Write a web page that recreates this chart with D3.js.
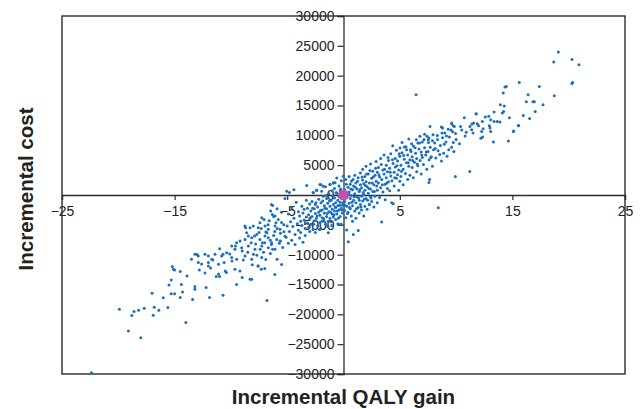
<!DOCTYPE html>
<html>
<head>
<meta charset="utf-8">
<script src="https://cdn.jsdelivr.net/npm/d3@7"></script>
<style>
  body { margin: 0; background: #fff; }
  svg { display: block; font-family: "Liberation Sans", Arial, sans-serif; }
</style>
</head>
<body>
<script>
// axis settings
const xTicks = [-25, -15, -5, 5, 15, 25];
const yTicks = [-30000, -25000, -20000, -15000, -10000, -5000, 0, 5000, 10000, 15000, 20000, 25000, 30000];
const xTitle = 'Incremental QALY gain';
const yTitle = 'Incremental cost';

// simulations, [QALY gain, cost], lower-left tail
const lowTail = [
  [-22.4, -29800], [-19.9, -19130], [-19.1, -22810], [-18.8, -20190], [-18.0, -23930],
  [-18.6, -19520], [-18.2, -19300], [-17.7, -18970], [-16.9, -20140], [-16.8, -18800],
  [-16.4, -19300], [-15.6, -18850], [-17.0, -16460], [-16.0, -17240], [-15.3, -16570],
  [-15.0, -16570], [-14.0, -21360], [-14.5, -17180], [-13.4, -17510], [-11.9, -17180],
  [-10.7, -16790], [-6.8, -17680], [-15.2, -12000], [-15.1, -12450], [-15.0, -12560],
  [-15.5, -15070], [-15.3, -14230], [-14.5, -12840], [-14.4, -15010], [-14.3, -16240],
  [-13.9, -13570], [-13.5, -10780], [-13.2, -15340], [-13.2, -15800], [-13.0, -9990],
  [-12.8, -12560], [-12.6, -11560], [-12.3, -13060], [-12.2, -15510], [-12.0, -10230],
  [-12.0, -11330], [-11.8, -12230], [-11.6, -10890], [-11.3, -13670], [-11.1, -13230],
  [-11.0, -13670], [-11.0, -8990], [-10.7, -9940], [-10.6, -11330], [-10.4, -13000],
  [-10.1, -9890], [-9.9, -11060], [-9.6, -8560], [-9.5, -15010], [-9.2, -12730],
  [-9.0, -13840], [-9.0, -9390], [-8.7, -5480], [-8.6, -6320], [-8.3, -14120],
  [-8.2, -7990], [-8.0, -9940], [-7.9, -6880], [-7.6, -11900], [-7.4, -9110],
  [-7.3, -12450], [-7.0, -12330], [-7.0, -7990], [-6.8, -6320], [-6.3, -9110],
  [-6.1, -13340], [-6.0, -4650], [-5.9, -10780], [-5.6, -7720], [-5.5, -11660],
  [-5.3, -6150], [-6.4, -1590]
];

// simulations, lower band around -12 to -5
const lowBand = [
  [-6.29, -1750], [-6.47, -2700], [-6.32, -3260], [-6.08, -3540], [-7.26, -3810],
  [-7.06, -4090], [-7.42, -4650], [-8.75, -5210], [-8.30, -5480], [-8.01, -5210],
  [-7.57, -5480], [-6.97, -5210], [-6.68, -5760], [-6.08, -5210], [-5.64, -5760],
  [-9.49, -7990], [-9.19, -7720], [-8.75, -7440], [-8.45, -6880], [-8.15, -7150],
  [-7.71, -6600], [-7.42, -7440], [-6.97, -6880], [-6.68, -7150], [-6.38, -7990],
  [-5.93, -7440], [-5.64, -7720], [-9.93, -8560], [-9.64, -9110], [-9.04, -8820],
  [-8.45, -8560], [-7.86, -9110], [-7.26, -8560], [-6.68, -8820], [-6.08, -9110],
  [-11.41, -9940], [-10.82, -10230], [-10.37, -9660], [-9.93, -10490], [-9.49, -10780],
  [-8.75, -10230], [-8.15, -10780], [-7.26, -10490], [-13.19, -9940], [-12.9, -10230],
  [-12.3, -9940], [-11.7, -10780], [-12.9, -11330], [-12.0, -11900], [-11.1, -11610],
  [-10.5, -12730], [-9.64, -12450], [-8.15, -14120], [-7.57, -11900],
  [-5.2, -600], [-4.8, 400], [-4.4, 900], [-5.5, -2900], [-5.8, -4100], [-5.3, -5000],
  [-5.6, -6400], [-5.1, -7100], [-5.9, -2300], [-6.2, -3600], [-6.6, -4300],
  [-6.9, -6200], [-7.3, -5600], [-6.4, -8300], [-5.4, -8800], [-5.04, 640],
  [-7.8, -8200], [-7.5, -6300], [-7.1, -9600], [-6.7, -5000], [-6.5, -7600],
  [-6.2, -6800], [-5.9, -5600], [-5.7, -8100], [-5.5, -4600], [-5.2, -6900],
  [-5.0, -5200], [-4.9, -8100], [-8.9, -10900], [-8.5, -9600], [-8.1, -11700],
  [-7.7, -10100], [-7.2, -8000], [-6.9, -10800], [-6.5, -9800], [-6.1, -6100]
];

// simulations, dense core around the origin
const core = [
  [-4.9, -3200], [-4.8, -6100], [-4.7, -4500], [-4.6, -7600], [-4.6, -2100], [-4.5, -5300],
  [-4.4, -3900], [-4.3, -8300], [-4.3, -6600], [-4.2, -1200], [-4.1, -4800], [-4.0, -5900],
  [-4.0, -2800], [-3.9, -7200], [-3.9, -3500], [-3.8, -4400], [-3.8, -6300], [-3.7, -1900],
  [-3.7, -5100], [-3.6, -3000], [-3.6, -7900], [-3.5, -4200], [-3.5, -2400], [-3.4, -5600],
  [-3.4, -6800], [-3.3, -3700], [-3.3, -900], [-3.2, -4700], [-3.2, -2200], [-3.1, -5400],
  [-3.1, -3300], [-3.0, -6100], [-3.0, -1500], [-3.0, -4000], [-3.27, 1590], [-2.68, 370],
  [-2.38, 800], [-1.94, 640], [-1.79, 1470], [-1.2, 1750], [-0.75, 2040], [-2.09, 1750],
  [-0.9, 2040], [-0.6, 2870], [-0.02, 3140],
  [-2.9, -2700], [-2.9, -4900], [-2.8, -1100], [-2.8, -3600], [-2.7, -5800], [-2.7, 400],
  [-2.6, -2300], [-2.6, -4300], [-2.5, -3100], [-2.5, -1600], [-2.5, -6300], [-2.4, -3900],
  [-2.4, 800], [-2.3, -2000], [-2.3, -5200], [-2.2, -2900], [-2.2, -700], [-2.1, -4600],
  [-2.1, -3400], [-2.0, -1300], [-2.0, 1700], [-2.0, -5700], [-1.9, -2500], [-1.9, -3800],
  [-1.8, -200], [-1.8, -4400], [-1.7, -1800], [-1.7, -3000], [-1.6, -4900], [-1.6, 1400],
  [-1.5, -2300], [-1.5, -600], [-1.5, -3600], [-1.4, -1400], [-1.4, -5300], [-1.3, -2800],
  [-1.3, 200], [-1.2, -3900], [-1.2, 1800], [-1.2, -1900], [-1.1, -900], [-1.1, -4500],
  [-1.0, -2400], [-1.0, -3200], [-1.0, 700], [-1.35, -6320], [-0.31, -4930],
  [-0.9, -1600], [-0.9, 2000], [-0.9, -3700], [-0.8, -500], [-0.8, -2700], [-0.8, 1100],
  [-0.7, -4100], [-0.7, -1300], [-0.7, -2100], [-0.6, 300], [-0.6, -3200], [-0.5, -1800],
  [-0.5, -900], [-0.5, -4800], [-0.4, 1500], [-0.4, -2500], [-0.4, -300], [-0.3, -3600],
  [-0.3, -1200], [-0.3, 700], [-0.2, -2200], [-0.2, -4900], [-0.2, 2400], [-0.1, -600],
  [-0.1, -1700], [-0.1, -3000],
  [0.1, -2600], [0.1, 900], [0.1, -1100], [0.2, -3800], [0.2, 300], [0.2, 2600],
  [0.3, -1900], [0.28, -5880], [0.3, -400], [0.4, 1300], [0.4, -2900], [0.43, -7820],
  [0.5, -1400], [0.5, 500], [0.5, 3100], [0.6, -2300], [0.6, -600], [0.6, 1800],
  [0.7, -3500], [0.7, -100], [0.7, 2300], [0.8, -1800], [0.8, 900], [0.8, -4400],
  [0.87, -6600], [0.9, -900], [0.9, 1500], [1.0, -2700], [1.0, 200], [1.0, 3300],
  [1.1, -1300], [1.1, 2000], [1.1, -3900], [1.2, -300], [1.2, 1000], [1.31, -5930],
  [1.3, -2100], [1.3, 2900], [1.4, 600], [1.4, -900], [1.4, -3000], [1.5, 1700],
  [1.5, -1600], [1.5, 3700], [1.6, -200], [1.6, -2500], [1.6, 1200], [1.7, 2500],
  [1.7, -1000], [1.7, 4300], [1.8, 100], [1.8, -3500], [1.8, 1900], [1.9, -1900],
  [1.9, 3100], [1.9, 800], [2.0, -600], [2.0, 2200], [2.0, 4800],
  [2.1, 1400], [2.1, -2400], [2.2, 300], [2.2, 3500], [2.3, -1600], [2.3, 2000],
  [2.29, -1590], [2.4, -300], [2.4, 5200], [2.4, 1000], [2.5, 2800], [2.5, -1100],
  [2.6, 4000], [2.6, 600], [2.7, 1700], [2.7, -2000], [2.8, 3300], [2.8, -200],
  [2.9, 2300], [2.9, 5600], [3.0, 800], [3.0, 3800], [3.0, -1300],
  [3.1, 2000], [3.1, 4600], [3.2, -400], [3.2, 3000], [3.3, 1200], [3.3, 6100],
  [3.39, -4540], [3.4, 2600], [3.5, 4200], [3.5, 500], [3.6, 3500], [3.6, 6700],
  [3.7, 1800], [3.7, -800], [3.8, 5000], [3.8, 2900], [3.9, 3900], [3.9, 1100],
  [4.0, 5800], [4.0, 2200],
  [-2.95, -3800], [-2.75, -2200], [-2.65, -4900], [-2.45, -1300], [-2.35, -3500],
  [-2.15, -5800], [-2.05, -2600], [-1.85, -1000], [-1.75, -4000], [-1.65, -2200],
  [-1.55, -100], [-1.45, -3100], [-1.35, -4400], [-1.25, -1000], [-1.15, -2900],
  [-1.05, -5100], [-0.95, -200], [-0.85, -3300], [-0.75, -2000], [-0.65, 400],
  [-0.55, -2700], [-0.45, -3900], [-0.35, -1700], [-0.25, 1000], [-0.15, -2500],
  [-0.05, -1300], [0.05, -300], [0.15, -1700], [0.25, 1800], [0.35, -3100],
  [0.45, 200], [0.55, -2100], [0.65, 1000], [0.75, -1200], [0.85, 2600],
  [0.95, -300], [1.05, 1300], [1.15, -2300], [1.25, 2300], [1.35, -500],
  [1.45, 900], [1.55, -2000], [1.65, 3000], [1.75, 400], [1.85, -700],
  [1.95, 1600], [2.05, 3500], [2.15, -900], [2.25, 1100], [2.35, 4100],
  [2.45, -500], [2.55, 2000], [2.65, 3000], [2.75, 600], [2.85, 4500], [2.95, 1500]
];

// simulations, upper band 3 to 14
const highBand = [
  [4.1, 4500], [4.1, 700], [4.2, 3200], [4.2, 6900], [4.28, -1300], [4.3, 2400],
  [4.4, 5300], [4.42, -1470], [4.37, 8270], [4.5, 3800], [4.5, 1500], [4.6, 6100],
  [4.6, 4700], [4.7, 2800], [4.7, 7500], [4.8, 3400], [4.8, 5700], [4.9, 800],
  [4.9, 4200], [5.02, 7880], [5.0, 6500], [5.0, 2300], [5.4, 8050],
  [5.1, 5000], [5.1, 3100], [5.2, 7100], [5.2, 8800], [5.3, 4300], [5.3, 1700],
  [5.4, 6000], [5.5, 3600], [5.6, 5400], [5.6, 7600], [5.7, 2600], [5.7, 6700],
  [5.8, 4800], [5.8, 9400], [5.9, 5900], [5.9, 3300], [6.0, 7300], [6.05, 8600],
  [6.1, 4600], [6.1, 6400], [6.2, 8200], [6.2, 2900], [6.3, 5500], [6.47, 9270],
  [6.4, 7000], [6.5, 3900], [6.5, 6100], [6.6, 8700], [6.6, 4900], [6.79, 9830],
  [6.7, 7700], [6.8, 5800], [6.9, 3500], [6.9, 7200], [7.0, 6300], [7.0, 8900],
  [7.1, 5100], [7.2, 7900], [7.2, 10200], [7.3, 6700], [7.4, 4300], [7.42, 9830],
  [7.53, 9270], [7.59, 9550], [7.68, 11500], [7.5, 7300], [7.59, 2090], [7.65, 2590],
  [7.6, 5900], [7.7, 8000], [7.8, 6400], [7.9, 9100], [7.9, 4800], [8.0, 7600],
  [8.1, 8700], [8.2, 6200], [8.33, 9990], [8.42, -2140], [8.4, 7400], [8.69, 11390],
  [8.81, 11230], [8.6, 8300], [8.7, 5700], [8.8, 9600], [8.9, 7000], [9.0, 10400],
  [9.61, 11950], [9.84, 11500], [9.75, 11610], [9.61, 12060], [9.1, 8900],
  [9.2, 6500], [9.3, 11000], [9.4, 9700], [9.6, 8000], [9.7, 10600], [9.8, 7300],
  [9.93, 3090], [10.0, 9300], [10.3, 8600], [10.5, 10900], [10.73, 12950], [10.8, 9900],
  [11.21, 3930], [11.23, 11500], [11.38, 10950], [11.56, 12060], [11.88, 11950],
  [11.79, 13620], [11.77, 13570], [11.5, 10400], [12.0, 11600], [12.2, 9500],
  [12.27, 10660], [12.36, 9720], [12.33, 12330], [12.59, 13070], [12.95, 11610],
  [13.01, 11230], [13.07, 10660], [13.07, 12620], [13.37, 12330], [13.37, 13900],
  [13.31, 8890], [13.66, 12330], [13.9, 12230],
  [3.15, 3400], [3.35, 5100], [3.45, 1700], [3.65, 4300], [3.85, 2000], [3.95, 6300],
  [4.15, 3800], [4.35, 5900], [4.55, 2900], [4.75, 4900], [4.95, 6900], [5.15, 4000],
  [5.35, 6600], [5.55, 8100], [5.75, 5400], [5.95, 7600], [6.15, 5800], [6.35, 7900],
  [6.55, 5200], [6.75, 8700], [6.95, 6700], [7.15, 9300], [7.35, 7200], [7.55, 8800],
  [7.75, 6300], [7.95, 10100], [8.15, 7800], [8.35, 9300], [8.55, 6800], [8.75, 10400],
  [8.95, 8500], [9.15, 9900], [9.35, 7600], [9.55, 10900], [9.75, 8800], [9.95, 10300],
  [10.4, 11500], [10.9, 10500], [11.4, 11900], [12.4, 11100], [12.9, 13200]
];

// simulations, upper-right tail
const highTail = [
  [19.08, 23980], [18.67, 22310], [20.29, 22690], [20.91, 21810], [20.35, 18850],
  [20.29, 18680], [18.72, 16630], [15.61, 18850], [17.39, 18180], [14.46, 18180],
  [14.34, 18080], [14.19, 17080], [16.39, 16790], [16.83, 15620], [16.95, 15620],
  [16.24, 15620], [17.72, 15120], [13.93, 15120], [14.28, 14900], [17.03, 14010],
  [14.22, 14010], [14.11, 13730], [15.97, 13340], [16.53, 12840], [14.73, 12950],
  [15.53, 11660], [15.11, 10730], [14.64, 9060], [15.08, 10660], [15.56, 11610],
  [6.44, 16790]
];

// base case
const baseCase = [[0, 0]];

const width = 640;
const height = 409;
const margin = { top: 16, right: 15, bottom: 35, left: 62 };

const svg = d3.select('body')
  .append('svg')
  .attr('width', width)
  .attr('height', height);

const x = d3.scaleLinear()
  .domain([-25, 25])
  .range([margin.left, width - margin.right]);

const y = d3.scaleLinear()
  .domain([-30000, 30000])
  .range([height - margin.bottom, margin.top]);

const axisColor = '#2b2b2b';

// x axis through cost = 0
const xAxis = svg.append('g')
  .attr('transform', `translate(0,${y(0)})`)
  .call(d3.axisBottom(x).tickValues(xTicks).tickSize(5).tickPadding(6).tickFormat(d3.format('d')));

// y axis through QALY = 0
const yAxis = svg.append('g')
  .attr('transform', `translate(${x(0)},0)`)
  .call(d3.axisLeft(y).tickValues(yTicks).tickSize(6).tickPadding(3).tickFormat(d3.format('d')));

[xAxis, yAxis].forEach((g) => {
  g.select('.domain').attr('stroke', axisColor).attr('stroke-width', 1.3);
  g.selectAll('.tick line').attr('stroke', axisColor).attr('stroke-width', 1.2);
  g.selectAll('.tick text')
    .attr('fill', '#222')
    .style('font-size', '14px')
    .style('font-family', '"Liberation Sans", Arial, sans-serif');
});

// outer frame
svg.append('rect')
  .attr('x', x(-25))
  .attr('y', y(30000))
  .attr('width', x(25) - x(-25))
  .attr('height', y(-30000) - y(30000))
  .attr('fill', 'none')
  .attr('stroke', axisColor)
  .attr('stroke-width', 1.4);

// scatter
const allPoints = [].concat(lowTail, lowBand, core, highBand, highTail);
svg.append('g')
  .selectAll('circle')
  .data(allPoints)
  .join('circle')
  .attr('cx', (d) => x(d[0]))
  .attr('cy', (d) => y(d[1]))
  .attr('r', 1.5)
  .attr('fill', '#1a70bf');

svg.append('g')
  .selectAll('circle')
  .data(baseCase)
  .join('circle')
  .attr('cx', (d) => x(d[0]))
  .attr('cy', (d) => y(d[1]))
  .attr('r', 5.5)
  .attr('fill', '#bf52a9');

// titles
svg.append('text')
  .attr('x', x(0))
  .attr('y', 404)
  .attr('text-anchor', 'middle')
  .attr('fill', '#222')
  .style('font-size', '20.5px')
  .style('font-weight', 'bold')
  .text(xTitle);

svg.append('text')
  .attr('transform', `translate(33,${y(0) - 6}) rotate(-90)`)
  .attr('text-anchor', 'middle')
  .attr('fill', '#222')
  .style('font-size', '20.5px')
  .style('font-weight', 'bold')
  .text(yTitle);
</script>
</body>
</html>
